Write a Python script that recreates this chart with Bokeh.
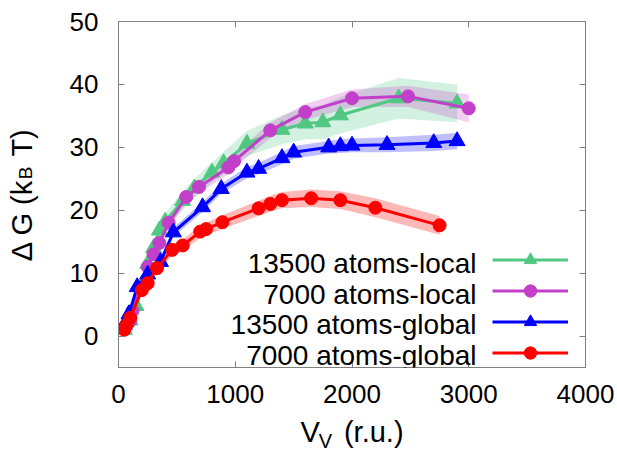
import math
import numpy as np
from bokeh.plotting import figure
from bokeh.models import (FixedTicker, LinearAxis, Label, Legend, LegendItem, Range1d,
                          CustomJSTickFormatter)
from bokeh.embed import file_html
from bokeh.resources import INLINE

# ---------------- data ----------------
green_x = [50, 100, 150, 200, 250, 300, 350, 400, 550, 650, 800, 900, 1100, 1400, 1600, 1750, 1900, 2400, 2900]
green_y = [1.0, 2.5, 4.8, 8.0, 11.5, 14.0, 16.8, 18.2, 21.5, 23.5, 26.0, 27.5, 30.6, 32.8, 33.8, 34.0, 35.1, 37.8, 37.0]
green_err = [0.6, 0.7, 0.8, 0.9, 1.0, 1.1, 1.2, 1.3, 1.4, 1.5, 1.6, 1.8, 2.0, 2.3, 2.5, 2.7, 2.9, 3.2, 3.0]

purple_x = [50, 100, 120, 250, 300, 350, 430, 580, 690, 940, 990, 1300, 1600, 2000, 2480, 3000]
purple_y = [1.2, 2.4, 4.0, 11.0, 13.0, 14.8, 18.0, 22.1, 23.7, 26.8, 27.8, 32.7, 35.6, 37.8, 38.1, 36.2]
purple_err = [0.5, 0.6, 0.6, 0.7, 0.8, 0.8, 0.9, 1.0, 1.0, 1.1, 1.1, 1.2, 1.3, 1.4, 1.7, 2.2]

blue_x = [50, 90, 160, 250, 360, 470, 720, 880, 1100, 1200, 1400, 1500, 1800, 1900, 2000, 2300, 2700, 2900]
blue_y = [1.8, 3.5, 7.8, 9.8, 11.8, 16.5, 20.5, 23.4, 26.0, 26.6, 28.3, 29.2, 30.0, 30.2, 30.3, 30.4, 30.7, 31.0]
blue_err = [0.5, 0.5, 0.6, 0.6, 0.7, 0.7, 0.8, 0.8, 0.9, 0.9, 1.0, 1.0, 1.0, 1.1, 1.1, 1.2, 1.3, 1.3]

red_x = [50, 70, 100, 200, 250, 330, 460, 550, 700, 750, 890, 1200, 1300, 1400, 1650, 1900, 2200, 2750]
red_y = [1.0, 1.8, 2.9, 7.3, 8.4, 10.8, 13.7, 14.4, 16.6, 17.0, 18.1, 20.3, 21.0, 21.6, 21.9, 21.6, 20.4, 17.6]
red_err = [0.5, 0.5, 0.6, 0.7, 0.7, 0.8, 0.9, 0.9, 1.0, 1.0, 1.1, 1.2, 1.3, 1.3, 1.4, 1.4, 1.5, 1.5]

series_names = ["13500 atoms-local", "7000 atoms-local", "13500 atoms-global", "7000 atoms-global"]
x_ticks = [0, 1000, 2000, 3000, 4000]
y_ticks = [0, 10, 20, 30, 40, 50]

# axis titles: main text (with room left for the subscript) and the subscripts
NB = "\u00a0"
x_title = "V" + NB * 3 + "(r.u.)"
x_title_sub = ["V"]
y_title = "Δ G (k" + NB * 3 + "T)"
y_title_sub = ["B"]

# ---------------- styling ----------------
FONT = "Liberation Sans"
GREEN = "#50c882"
PURPLE = "#c23fc9"
BLUE = "#0000ff"
RED = "#ff0000"
FRAME_GRAY = "#808080"

W, H = 617, 459
L, R, T, B = 118, 32, 21, 92
XMIN, XMAX, YMIN, YMAX = 0, 4000, -5, 50
FW, FH = W - L - R, H - T - B


def dx(px):
    return XMIN + (px - L) * (XMAX - XMIN) / FW


def dy(py):
    return YMAX - (py - T) * (YMAX - YMIN) / FH


p = figure(width=W, height=H, output_backend="svg", toolbar_location=None,
           x_range=Range1d(XMIN, XMAX), y_range=Range1d(YMIN, YMAX),
           min_border_left=L, min_border_right=R, min_border_top=T, min_border_bottom=B)
p.grid.visible = False
p.outline_line_color = FRAME_GRAY
p.outline_line_width = 1
p.background_fill_color = "white"
p.border_fill_color = "white"

# main axes
for ax in (p.xaxis[0], p.yaxis[0]):
    ax.axis_line_color = FRAME_GRAY
    ax.major_tick_line_color = FRAME_GRAY
    ax.major_tick_in = 6
    ax.major_tick_out = 0
    ax.minor_tick_line_color = None
    ax.major_label_text_font = FONT
    ax.major_label_text_font_size = "26px"
    ax.major_label_text_color = "black"
    ax.axis_label_text_font = FONT
    ax.axis_label_text_font_size = "29px"
    ax.axis_label_text_font_style = "normal"
    ax.axis_label_text_color = "black"
p.xaxis[0].ticker = FixedTicker(ticks=x_ticks)
p.yaxis[0].ticker = FixedTicker(ticks=y_ticks)
p.xaxis[0].major_label_standoff = 17
p.yaxis[0].major_label_standoff = 20
p.xaxis[0].axis_label = x_title
p.yaxis[0].axis_label = y_title
p.xaxis[0].axis_label_standoff = 10
p.yaxis[0].axis_label_standoff = 29

# mirror axes (ticks only)
for loc, ticks in (("above", x_ticks), ("right", y_ticks)):
    ax = LinearAxis(ticker=FixedTicker(ticks=ticks))
    ax.axis_line_color = FRAME_GRAY
    ax.major_tick_line_color = FRAME_GRAY
    ax.major_tick_in = 6
    ax.major_tick_out = 0
    ax.minor_tick_line_color = None
    ax.major_label_text_color = None
    ax.major_label_standoff = 0
    p.add_layout(ax, loc)


def sub_axis(ticks, labels, size, standoff, orientation="horizontal"):
    ax = LinearAxis(ticker=FixedTicker(ticks=ticks),
                    formatter=CustomJSTickFormatter(args=dict(labels=labels),
                                                    code="return labels[index]"))
    ax.axis_line_color = None
    ax.major_tick_line_color = None
    ax.minor_tick_line_color = None
    ax.major_tick_in = 0
    ax.major_tick_out = 0
    ax.major_label_text_font = FONT
    ax.major_label_text_font_size = size
    ax.major_label_text_color = "black"
    ax.major_label_standoff = standoff
    ax.major_label_orientation = orientation
    return ax


# subscripts
p.add_layout(sub_axis([dx(325)], x_title_sub, "20px", -21), "below")
p.add_layout(sub_axis([dy(166)], y_title_sub, "19px", -23, math.pi / 2), "left")

series = [
    (green_x, green_y, green_err, GREEN, "triangle", 16, 0.25),
    (purple_x, purple_y, purple_err, PURPLE, "circle", 13, 0.25),
    (blue_x, blue_y, blue_err, BLUE, "triangle", 16, 0.25),
    (red_x, red_y, red_err, RED, "circle", 13, 0.28),
]

# bands first
for xs, ys, es, col, mk, sz, a in series:
    y = np.array(ys)
    e = np.array(es)
    p.varea(x=xs, y1=y - e, y2=y + e, fill_color=col, fill_alpha=a)

items = []
for xs, ys, es, col, mk, sz, a in series:
    lr = p.line(xs, ys, line_color=col, line_width=3)
    sr = p.scatter(xs, ys, marker=mk, size=sz, fill_color=col, line_color=col)
    items.append(LegendItem(label=" ", renderers=[lr, sr]))

legend = Legend(items=items, location=(492 - L, (H - B) - 368),
                glyph_width=76, glyph_height=31, label_height=31, label_width=1, spacing=0,
                padding=0, margin=0, label_standoff=0, label_text_font_size="8px",
                border_line_alpha=0, background_fill_alpha=0)
p.add_layout(legend, "center")

# legend texts, right aligned to the left of the samples
for name, base in zip(series_names, [263, 293.7, 324.3, 355]):
    p.add_layout(Label(x=dx(476), y=dy(base), text=name, text_font=FONT,
                       text_font_size="28px", text_align="right", text_baseline="alphabetic",
                       text_color="black"))

open("out.html", "w").write(file_html(p, INLINE))
